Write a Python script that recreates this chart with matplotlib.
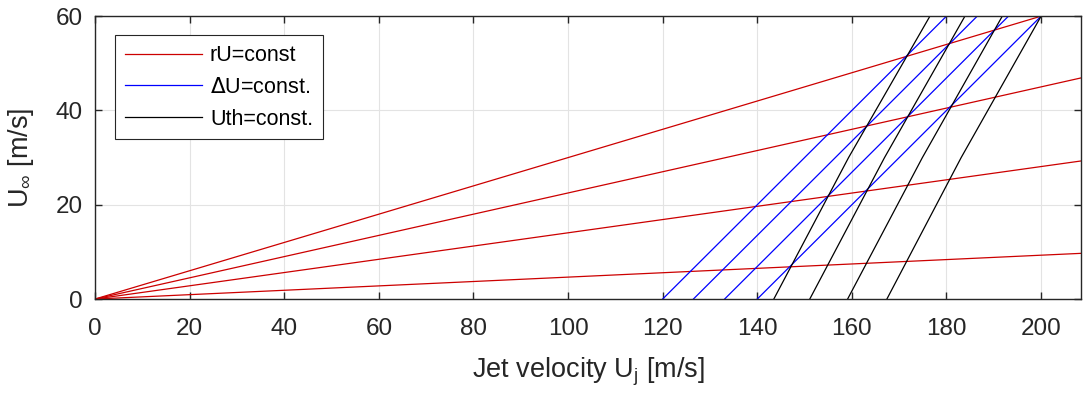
import numpy as np
import matplotlib.pyplot as plt

plt.rcParams['font.family'] = ['Liberation Sans', 'DejaVu Sans']

# rU = const : slope U_inf / U_j of rays through the origin
r_slopes = [0.3, 0.225, 0.1405, 0.0465]

# dU = const : U_j - U_inf (lines of slope one)
dU_values = [120.0, 126.5, 133.1, 140.0]

# Uth = const : U_j read at U_inf = 0, 30, 60
uth_y = [0, 30, 60]
uth_x = [
    [143.5, 159.3, 176.5],
    [151.1, 166.9, 183.9],
    [159.1, 174.9, 191.8],
    [167.4, 183.1, 200.0],
]

x_max = 208.4
y_max = 60

fig = plt.figure(figsize=(10.83, 3.94), dpi=100)
ax = fig.add_axes([0.0877, 0.241, 0.9103, 0.718])

red = '#cc0000'
for i, r in enumerate(r_slopes):
    xs = np.array([0, x_max])
    ax.plot(xs, r * xs, color=red, lw=0.9, label='rU=const' if i == 0 else None)

for i, d in enumerate(dU_values):
    ys = np.array([0, y_max])
    ax.plot(ys + d, ys, color='#0000ff', lw=0.9,
            label='$\\Delta$U=const.' if i == 0 else None)

for i, xs in enumerate(uth_x):
    ax.plot(xs, uth_y, color='black', lw=0.9,
            label='Uth=const.' if i == 0 else None)

ax.set_xlim(0, x_max)
ax.set_ylim(0, y_max)
ax.set_xticks(np.arange(0, 201, 20))
ax.set_yticks([0, 20, 40, 60])
ax.grid(True, color='#e3e3e3', lw=0.8)
ax.set_axisbelow(True)
ax.tick_params(direction='in', top=True, right=True, length=5, width=1,
               labelsize=17.5, colors='#262626')
ax.tick_params(axis='x', pad=14)
ax.tick_params(axis='y', pad=9)
for s in ax.spines.values():
    s.set_color('#262626')
    s.set_linewidth(1)

ax.set_xlabel('Jet velocity U$_\\mathregular{j}$ [m/s]', fontsize=19.5, color='#262626',
              labelpad=11)
ax.set_ylabel('U$_\\mathregular{\\infty}$ [m/s]', fontsize=19.5, color='#262626',
              labelpad=14)

leg = ax.legend(loc='upper left', bbox_to_anchor=(0.0205, 0.932), fontsize=15.5,
                handlelength=3.6, frameon=True, fancybox=False, borderpad=0.45,
                labelspacing=0.5, handletextpad=0.35, borderaxespad=0)
leg.get_frame().set_edgecolor('#262626')
leg.get_frame().set_linewidth(0.8)
leg.get_frame().set_alpha(1)

fig.savefig('out.png', dpi=100)
